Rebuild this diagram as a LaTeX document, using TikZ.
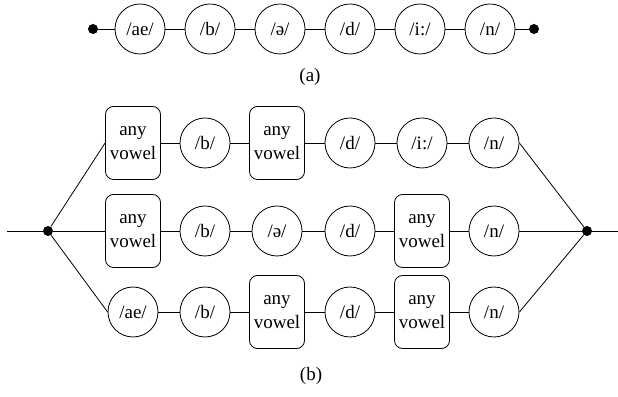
\documentclass[tikz,border=0pt]{standalone}
\usepackage{fontspec}
\setmainfont{Liberation Serif}

\begin{document}
\begin{tikzpicture}[x=1pt, y=1pt, line width=0.8pt,
    font=\fontsize{19}{24}\selectfont,
    phone/.style={draw, circle, minimum size=50pt, inner sep=0pt},
    vowelbox/.style={draw, rounded corners=8pt, minimum width=55pt,
        minimum height=73pt, inner sep=2pt, align=center},
    junction/.style={circle, fill, inner sep=0pt, minimum size=10pt}]

\useasboundingbox (0,0) rectangle (618,396);

% (a): the single chain
\node[junction] (aL) at (93,367) {};
\node[junction] (aR) at (534,367) {};
\foreach \lab [count=\i] in {{/ae/},{/b/},{/ə/},{/d/},{/i:/},{/n/}} {
    \node[phone] (a\i) at ({70+70*\i},367) {\lab};
}
\draw (aL) -- (a1) -- (a2) -- (a3) -- (a4) -- (a5) -- (a6) -- (aR);
\node (capA) at (310,319) {(a)};

% (b): top row
\node[vowelbox] (t1) at (133,253) {any\\vowel};
\node[phone] (t2) at (205,253) {/b/};
\node[vowelbox] (t3) at (277,253) {any\\vowel};
\node[phone] (t4) at (350,253) {/d/};
\node[phone] (t5) at (422,253) {/i:/};
\node[phone] (t6) at (494,253) {/n/};

% middle row
\node[vowelbox] (m1) at (133,165) {any\\vowel};
\node[phone] (m2) at (205,165) {/b/};
\node[phone] (m3) at (277,165) {/ə/};
\node[phone] (m4) at (350,165) {/d/};
\node[vowelbox] (m5) at (422,165) {any\\vowel};
\node[phone] (m6) at (494,165) {/n/};

% bottom row
\node[phone] (b1) at (133,84) {/ae/};
\node[phone] (b2) at (205,84) {/b/};
\node[vowelbox] (b3) at (277,84) {any\\vowel};
\node[phone] (b4) at (350,84) {/d/};
\node[vowelbox] (b5) at (422,84) {any\\vowel};
\node[phone] (b6) at (494,84) {/n/};

% links inside the rows
\foreach \row in {t,m,b} {
    \foreach \i in {1,...,5} {
        \pgfmathtruncatemacro\j{\i+1}
        \draw (\row\i) -- (\row\j);
    }
}

% fan out and back in
\node[junction] (bL) at (48,165) {};
\node[junction] (bR) at (587,165) {};
\coordinate (inB) at (7,165);
\coordinate (outB) at (618,165);
\draw (inB) -- (bL);
\draw (bL) -- (t1.west);
\draw (bL) -- (m1);
\draw (bL) -- (b1.west);
\draw (t6.east) -- (bR);
\draw (m6) -- (bR);
\draw (b6.east) -- (bR);
\draw (bR) -- (outB);
\node (capB) at (311,20) {(b)};

\end{tikzpicture}
\end{document}
